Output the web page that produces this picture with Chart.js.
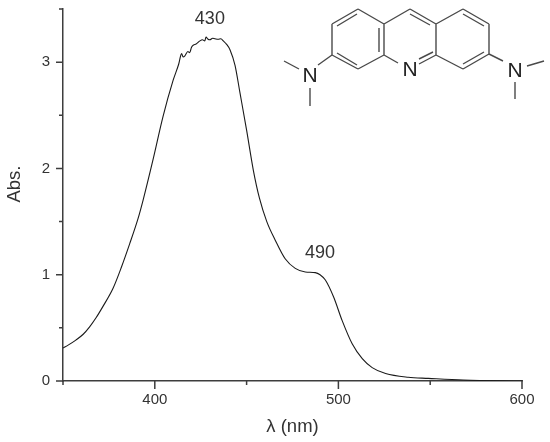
<!DOCTYPE html>
<html>
<head>
<meta charset="utf-8">
<style>
html, body { margin: 0; padding: 0; background: #fff; }
canvas { display: block; }
</style>
<script src="https://cdn.jsdelivr.net/npm/chart.js@4"></script>
</head>
<body>
<canvas id="myChart" width="550" height="442"></canvas>
<script>
// spectrum
const wavelength = [350, 353, 357, 361, 364.5, 368, 371.7, 377.2, 381.8, 386.3, 390.9, 393.6, 399, 404.5, 410, 413, 414.6, 415.4, 416.4, 418, 419, 420, 421, 422.5, 424.6, 426, 427.2, 427.9, 429, 430, 431.5, 432.8, 434.5, 436, 437.3, 439, 441, 443.7, 446.4, 450, 453.7, 457, 461, 465.6, 471, 476.5, 482, 487.4, 490, 492.9, 497.4, 502, 507.5, 513, 518.4, 525.7, 538, 549, 568, 600];
const absorbance = [0.31, 0.34, 0.385, 0.44, 0.51, 0.595, 0.7, 0.87, 1.07, 1.29, 1.53, 1.7, 2.08, 2.49, 2.83, 2.98, 3.08, 3.05, 3.06, 3.1, 3.09, 3.14, 3.16, 3.17, 3.2, 3.21, 3.2, 3.235, 3.215, 3.21, 3.225, 3.22, 3.215, 3.22, 3.2, 3.17, 3.115, 2.97, 2.71, 2.36, 1.98, 1.72, 1.5, 1.325, 1.15, 1.06, 1.026, 1.02, 1.0, 0.95, 0.79, 0.57, 0.35, 0.21, 0.126, 0.07, 0.035, 0.025, 0.01, 0];
const xMajor = [400, 500, 600];
const xMinor = [350, 450, 550];
const yMajor = [0, 1, 2, 3];
const yMinor = [0.5, 1.5, 2.5, 3.5];
const peakText = ['430', '490'];
const peakX = [430, 490];
const peakY = [3.41, 1.2];

// acridine orange sketch, pixel positions on the page
const bonds = [
    [358,9,384,24],[384,24,384,55],[384,55,358,69],[358,69,332,55],[332,55,332,24],[332,24,358,9],
    [384,24,410,9],[410,9,436,24],[436,24,436,55],[436,55,419,64],[384,55,398,63],
    [436,24,463,9],[463,9,489,24],[489,24,489,54],[489,54,463,69],[463,69,436,55],
    [337,26,357,14],[379,28,379,52],[337,53,357,65],
    [410,14,430,25],[419,59,433,52],
    [463,14,484,26],[484,52,463,64],
    [332,55,318,65],[284,61,299,69],[310,88,310,106],
    [489,54,503,61],[527,66,544,61],[515,82,515,99]
];
const atoms = [['N',410,70],['N',310,76],['N',515,71]];

const extras = {
    id: 'extras',
    afterDraw(chart) {
        const c = chart.ctx;
        const sx = chart.scales.x, sy = chart.scales.y;
        c.save();
        // tick marks, long and short
        c.strokeStyle = '#3d3d3d';
        c.lineWidth = 1.5;
        c.beginPath();
        xMajor.forEach(v => { const p = sx.getPixelForValue(v); c.moveTo(p, sy.bottom); c.lineTo(p, sy.bottom + 8); });
        xMinor.forEach(v => { const p = sx.getPixelForValue(v); c.moveTo(p, sy.bottom); c.lineTo(p, sy.bottom + 4); });
        yMajor.forEach(v => { const p = sy.getPixelForValue(v); c.moveTo(sx.left, p); c.lineTo(sx.left - 7, p); });
        yMinor.forEach(v => { const p = sy.getPixelForValue(v); c.moveTo(sx.left, p); c.lineTo(sx.left - 4, p); });
        c.stroke();
        // peak labels
        c.fillStyle = '#333';
        c.font = '18px "Liberation Sans"';
        c.textAlign = 'center';
        c.textBaseline = 'middle';
        peakText.forEach((t, i) => c.fillText(t, sx.getPixelForValue(peakX[i]), sy.getPixelForValue(peakY[i])));
        // y title sits above the middle of the axis
        c.save();
        c.translate(15, 184);
        c.rotate(-Math.PI / 2);
        c.font = '18.5px "Liberation Sans"';
        c.fillText('Abs.', 0, 0);
        c.restore();
        // structure inset
        c.strokeStyle = '#4a4a4a';
        c.lineWidth = 1.4;
        c.beginPath();
        bonds.forEach(b => { c.moveTo(b[0], b[1]); c.lineTo(b[2], b[3]); });
        c.stroke();
        c.fillStyle = '#222';
        c.font = '21px "Liberation Sans"';
        atoms.forEach(a => c.fillText(a[0], a[1], a[2]));
        c.restore();
    }
};

const ctx = document.getElementById('myChart').getContext('2d');
const myChart = new Chart(ctx, {
    type: 'scatter',
    data: {
        datasets: [{
            data: wavelength.map((w, i) => ({ x: w, y: absorbance[i] })),
            showLine: true,
            borderColor: '#1a1a1a',
            borderWidth: 1.1,
            pointRadius: 0,
            cubicInterpolationMode: 'monotone'
        }]
    },
    options: {
        responsive: false,
        animation: false,
        layout: { padding: { top: 9, right: 28, left: 0, bottom: 0 } },
        plugins: { legend: { display: false }, tooltip: { enabled: false } },
        scales: {
            x: {
                type: 'linear',
                min: 350,
                max: 600,
                afterFit: s => { s.height = 61; s.paddingRight = 0; },
                grid: { display: false },
                border: { display: true, color: '#3d3d3d', width: 1.5 },
                ticks: {
                    stepSize: 50,
                    autoSkip: false,
                    maxRotation: 0,
                    padding: 2,
                    color: '#333',
                    font: { family: '"Liberation Sans"', size: 15 },
                    callback: v => xMajor.includes(v) ? v : ''
                },
                title: {
                    display: true,
                    text: 'λ (nm)',
                    color: '#333',
                    font: { family: '"Liberation Sans"', size: 18.5 },
                    padding: { top: 4, bottom: 4 }
                }
            },
            y: {
                type: 'linear',
                min: 0,
                max: 3.5,
                afterFit: s => { s.width = 63; s.paddingTop = 0; s.paddingBottom = 0; },
                grid: { display: false },
                border: { display: true, color: '#3d3d3d', width: 1.5 },
                ticks: {
                    stepSize: 0.5,
                    autoSkip: false,
                    padding: 5,
                    color: '#333',
                    font: { family: '"Liberation Sans"', size: 15 },
                    callback: v => yMajor.includes(v) ? v : ''
                }
            }
        }
    },
    plugins: [extras]
});
</script>
</body>
</html>
